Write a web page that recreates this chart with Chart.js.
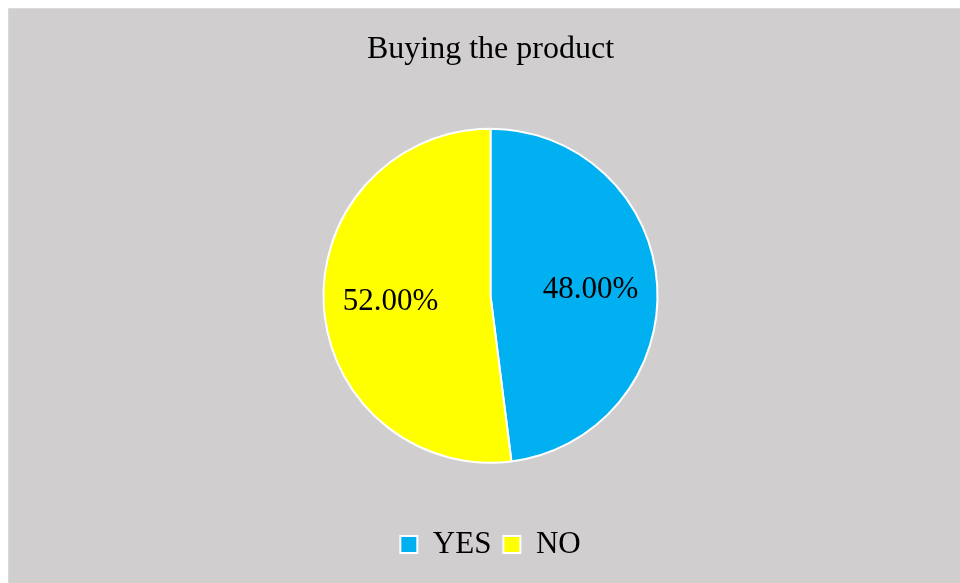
<!DOCTYPE html>
<html>
<head>
<meta charset="utf-8">
<script src="https://cdn.jsdelivr.net/npm/chart.js@4/dist/chart.umd.min.js"></script>
<style>
  html, body { margin: 0; padding: 0; background: #fff; overflow: hidden; }
  #panel {
    position: absolute; left: 8px; top: 8px; width: 964px; height: 575px;
    background: #d0cece; border-top: 1px solid #dadada; border-left: 1px solid #dadada;
    box-sizing: border-box;
  }
</style>
</head>
<body>
<div id="panel"><canvas id="myChart" width="963" height="574"></canvas></div>
<script>
var labels = ["YES", "NO"];
var percents = [48, 52];
var sliceColors = ["#00b0f0", "#ffff00"];

var FONT = "'Liberation Serif', 'Times New Roman', serif";

// percent text inside each slice
var sliceLabels = {
  id: "sliceLabels",
  afterDatasetsDraw: function(chart) {
    var ctx = chart.ctx;
    var meta = chart.getDatasetMeta(0);
    ctx.save();
    ctx.font = "31px " + FONT;
    ctx.fillStyle = "#000";
    ctx.textAlign = "center";
    ctx.textBaseline = "middle";
    meta.data.forEach(function(arc, i) {
      var p = arc.getProps(["x", "y", "startAngle", "endAngle", "outerRadius"], true);
      var mid = (p.startAngle + p.endAngle) / 2;
      var r = p.outerRadius * 0.6;
      ctx.fillText(percents[i].toFixed(2) + "%", p.x + Math.cos(mid) * r, p.y + Math.sin(mid) * r);
    });
    ctx.restore();
  }
};

new Chart("myChart", {
  type: "pie",
  data: {
    labels: labels,
    datasets: [{
      data: percents,
      backgroundColor: sliceColors,
      borderColor: "#ffffff",
      borderWidth: 2,
      radius: 167
    }]
  },
  options: {
    responsive: false,
    animation: false,
    layout: { padding: { bottom: 13 } },
    plugins: {
      title: {
        display: true,
        text: "Buying the product",
        color: "#000",
        font: { family: FONT, size: 32, weight: "normal" },
        padding: { top: 21, bottom: 6 }
      },
      legend: {
        position: "bottom",
        labels: {
          color: "#000",
          font: { family: FONT, size: 31 },
          boxWidth: 17,
          boxHeight: 17,
          padding: 12
        }
      },
      tooltip: { enabled: false }
    }
  },
  plugins: [sliceLabels]
});
</script>
</body>
</html>
